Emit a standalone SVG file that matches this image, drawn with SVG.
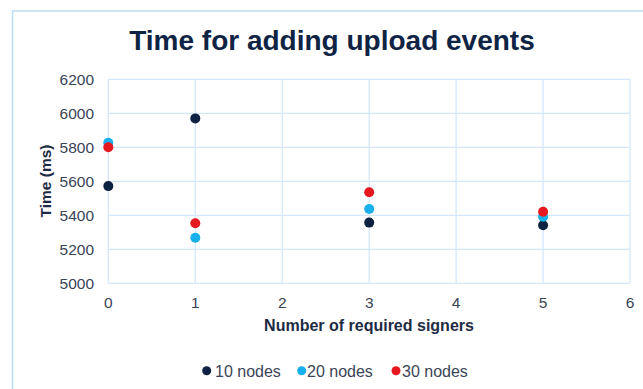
<svg xmlns="http://www.w3.org/2000/svg" width="643" height="389" viewBox="0 0 643 389">
<style>
.grid{stroke:#d5e8fb;stroke-width:1.3;fill:none}
.tick{font-family:"Liberation Sans",Arial,sans-serif;font-size:15.5px;fill:#3a4457}
.axt{font-family:"Liberation Sans",Arial,sans-serif;font-size:16px;font-weight:bold;fill:#1d2b44}
.ttl{font-family:"Liberation Sans",Arial,sans-serif;font-size:28px;font-weight:bold;fill:#0f2444}
.leg{font-family:"Liberation Sans",Arial,sans-serif;font-size:16px;fill:#3a4457}
.s10{fill:#0d2240}
.s20{fill:#17b0ec}
.s30{fill:#e5171f}
</style>
<rect width="643" height="389" fill="#ffffff"/>
<rect x="12.5" y="11" width="660" height="400" fill="none" stroke="#bcdcf8" stroke-width="1.5"/>
<text class="ttl" x="332" y="50" text-anchor="middle">Time for adding upload events</text>
<g id="grid">
<line class="grid" x1="108.3" y1="79.3" x2="630" y2="79.3"/>
<line class="grid" x1="108.3" y1="113.3" x2="630" y2="113.3"/>
<line class="grid" x1="108.3" y1="147.3" x2="630" y2="147.3"/>
<line class="grid" x1="108.3" y1="181.3" x2="630" y2="181.3"/>
<line class="grid" x1="108.3" y1="215.3" x2="630" y2="215.3"/>
<line class="grid" x1="108.3" y1="249.3" x2="630" y2="249.3"/>
<line class="grid" x1="108.3" y1="283.3" x2="630" y2="283.3"/>
<line class="grid" x1="108.3" y1="79.3" x2="108.3" y2="283.3"/>
<line class="grid" x1="195.3" y1="79.3" x2="195.3" y2="283.3"/>
<line class="grid" x1="282.2" y1="79.3" x2="282.2" y2="283.3"/>
<line class="grid" x1="369.2" y1="79.3" x2="369.2" y2="283.3"/>
<line class="grid" x1="456.1" y1="79.3" x2="456.1" y2="283.3"/>
<line class="grid" x1="543.1" y1="79.3" x2="543.1" y2="283.3"/>
<line class="grid" x1="630" y1="79.3" x2="630" y2="283.3"/>
</g>
<g id="y-ticks" text-anchor="end">
<text class="tick" x="94" y="85">6200</text>
<text class="tick" x="94" y="119">6000</text>
<text class="tick" x="94" y="153">5800</text>
<text class="tick" x="94" y="187">5600</text>
<text class="tick" x="94" y="221">5400</text>
<text class="tick" x="94" y="255">5200</text>
<text class="tick" x="94" y="289">5000</text>
</g>
<g id="x-ticks" text-anchor="middle">
<text class="tick" x="108.3" y="308">0</text>
<text class="tick" x="195.3" y="308">1</text>
<text class="tick" x="282.2" y="308">2</text>
<text class="tick" x="369.2" y="308">3</text>
<text class="tick" x="456.1" y="308">4</text>
<text class="tick" x="543.1" y="308">5</text>
<text class="tick" x="630" y="308">6</text>
</g>
<text class="axt" x="369" y="331" text-anchor="middle">Number of required signers</text>
<text class="axt" transform="translate(51,181) rotate(-90)" text-anchor="middle" style="font-size:15.5px">Time (ms)</text>
<g id="series-10-nodes" class="s10">
<circle cx="108.3" cy="186.1" r="5"/>
<circle cx="195.3" cy="118.4" r="5"/>
<circle cx="369.2" cy="222.6" r="5"/>
<circle cx="543.1" cy="225.3" r="5"/>
</g>
<g id="series-20-nodes" class="s20">
<circle cx="108.3" cy="142.7" r="5"/>
<circle cx="195.3" cy="237.7" r="5"/>
<circle cx="369.2" cy="209" r="5"/>
<circle cx="543.1" cy="216.7" r="5"/>
</g>
<g id="series-30-nodes" class="s30">
<circle cx="108.3" cy="147.3" r="5"/>
<circle cx="195.3" cy="223.3" r="5"/>
<circle cx="369.2" cy="192.3" r="5"/>
<circle cx="543.1" cy="211.7" r="5"/>
</g>
<g id="legend">
<circle class="s10" cx="206.7" cy="370.7" r="4.5"/>
<text class="leg" x="215" y="376.5">10 nodes</text>
<circle class="s20" cx="301.7" cy="370.7" r="4.5"/>
<text class="leg" x="307" y="376.5">20 nodes</text>
<circle class="s30" cx="396" cy="370.7" r="4.5"/>
<text class="leg" x="402" y="376.5">30 nodes</text>
</g>
</svg>
